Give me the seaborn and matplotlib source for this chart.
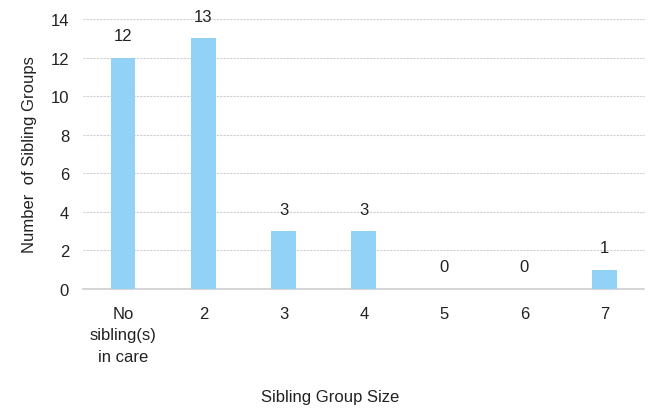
import matplotlib
matplotlib.use("Agg")
import matplotlib.pyplot as plt
import seaborn as sns
import pandas as pd

categories = ["No\nsibling(s)\nin care", "2", "3", "4", "5", "6", "7"]
values = [12, 13, 3, 3, 0, 0, 1]
yticks = [0, 2, 4, 6, 8, 10, 12, 14]

sns.set_theme(style="white")
plt.rcParams['font.family'] = ['Liberation Sans', 'DejaVu Sans']

df = pd.DataFrame({"cat": categories, "val": values})

fig = plt.figure(figsize=(6.58, 4.10), dpi=100)
ax = fig.add_axes([0.126, 0.293, 0.854, 0.658])
sns.barplot(data=df, x="cat", y="val", color="#92D2F7", width=0.31,
            saturation=1, linewidth=0, ax=ax, zorder=3)

ax.set_ylim(0, 14)
ax.set_yticks(yticks)
ax.set_xlim(-0.5, len(categories) - 0.5)
ax.yaxis.grid(True, color="#d0d0d0", linestyle=(0, (2, 1)), linewidth=0.8, zorder=0)
ax.xaxis.grid(False)
for s in ["top", "right", "left"]:
    ax.spines[s].set_visible(False)
ax.spines["bottom"].set_color("#d0d0d0")
ax.spines["bottom"].set_linestyle((0, (2, 1)))
ax.tick_params(axis="y", length=0, labelsize=12, colors="#222222", pad=10)
ax.tick_params(axis="x", length=0, labelsize=12, colors="#222222", pad=12)
for lab in ax.get_xticklabels():
    lab.set_linespacing(1.55)

for i, v in enumerate(values):
    ax.text(i, v + 0.75, str(v), ha="center", va="bottom", fontsize=12, color="#222222",
            clip_on=False)

ax.set_xlabel("")
fig.text(330 / 658, 1 - 398 / 410, "Sibling Group Size", ha="center", va="center",
         fontsize=12, color="#222222")
ax.set_ylabel("Number  of Sibling Groups", fontsize=12, color="#222222", labelpad=10)

fig.savefig("out.png", dpi=100)
